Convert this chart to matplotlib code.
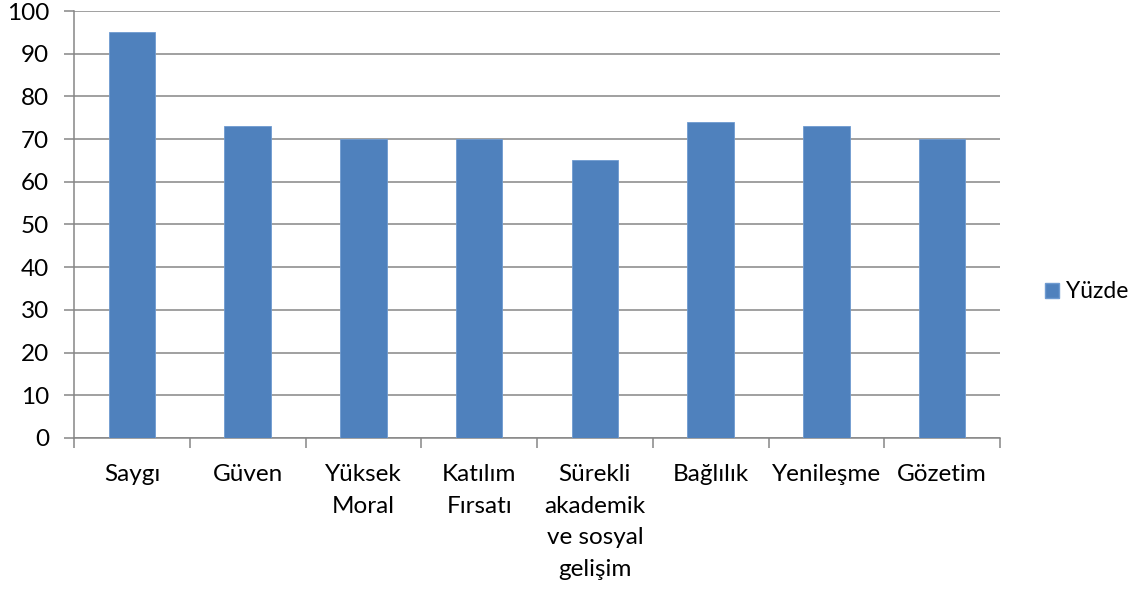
import matplotlib
matplotlib.use("Agg")
import matplotlib.pyplot as plt
from matplotlib.patches import Patch
import numpy as np

categories = ["Saygı", "Güven", "Yüksek\nMoral", "Katılım\nFırsatı",
              "Sürekli\nakademik\nve sosyal\ngelişim", "Bağlılık", "Yenileşme", "Gözetim"]
values = [95, 73, 70, 70, 65, 74, 73, 70]
yticks = [0, 10, 20, 30, 40, 50, 60, 70, 80, 90, 100]
series_name = "Yüzde"

plt.rcParams['font.family'] = ['Lato', 'DejaVu Sans']
bar_color = "#4F81BD"
grid_color = "#868686"
fs = 17.5

fig = plt.figure(figsize=(11.39, 5.92), dpi=100)
ax = fig.add_axes([74/1139, 1-438/592, (1000-74)/1139, (438-11)/592])

x = np.arange(len(categories))
ax.bar(x, values, width=0.4, color=bar_color, edgecolor="#6F9BD1", linewidth=0.6, zorder=3)

ax.set_xlim(-0.5, len(categories) - 0.5)
ax.set_ylim(0, 100)
ax.set_yticks(yticks)
ax.set_yticklabels([str(v) for v in yticks], fontsize=fs)
ax.yaxis.grid(True, color=grid_color, linewidth=1.1, zorder=0)

ax.set_xticks(np.arange(-0.5, len(categories), 1.0))
ax.set_xticklabels([])
ax.set_xticks(x, minor=True)
ax.set_xticklabels(categories, minor=True, fontsize=fs, linespacing=1.62, va="top")
ax.tick_params(axis="x", which="minor", length=0, pad=19)
ax.tick_params(axis="x", which="major", length=7, width=1.1, color=grid_color, direction="out")
ax.tick_params(axis="y", length=7, width=1.1, color=grid_color, direction="out", pad=11)

for s in ["top", "right"]:
    ax.spines[s].set_visible(False)
for s in ["left", "bottom"]:
    ax.spines[s].set_color(grid_color)
    ax.spines[s].set_linewidth(1.1)

fig.legend(handles=[Patch(facecolor=bar_color, edgecolor="#6F9BD1", label=series_name)],
           loc="center left", bbox_to_anchor=(1045/1139, 1-292/592), frameon=False,
           fontsize=16.5, handlelength=0.6, handleheight=0.6, handletextpad=0.3, borderpad=0,
           borderaxespad=0)

fig.savefig("out.png", dpi=100)
